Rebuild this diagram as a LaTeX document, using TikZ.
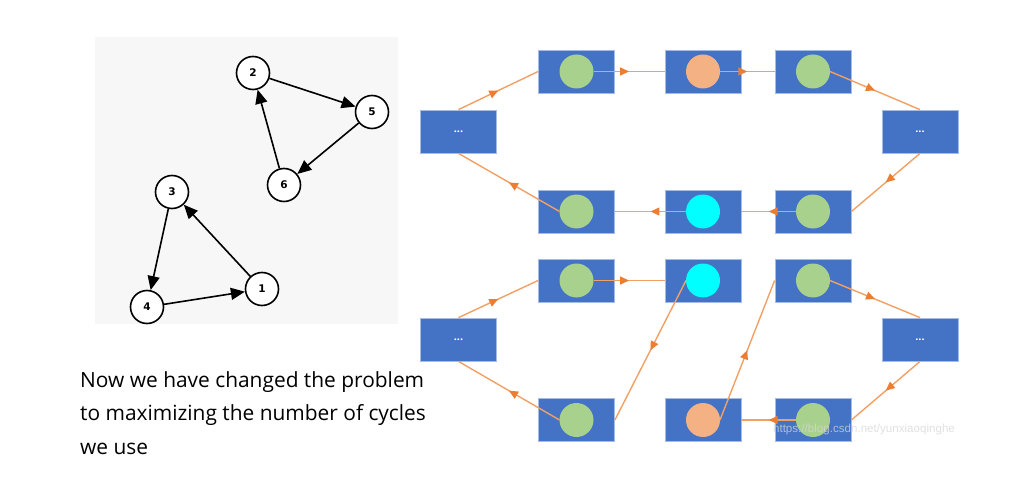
\documentclass[tikz,border=0pt]{standalone}
\usepackage{fontspec}
\setmainfont{Open Sans}
\newfontfamily\numfont{DejaVu Sans}
\newfontfamily\wmfont{Liberation Sans}
\usetikzlibrary{arrows.meta,decorations.markings}
\definecolor{boxblue}{RGB}{68,114,196}
\definecolor{boxedge}{RGB}{165,188,228}
\definecolor{cgreen}{RGB}{169,209,142}
\definecolor{corange}{RGB}{244,177,131}
\definecolor{ccyan}{RGB}{0,255,255}
\definecolor{lineor}{RGB}{242,160,100}
\definecolor{arrowor}{RGB}{237,125,49}
\definecolor{panelgray}{RGB}{247,247,247}
\definecolor{wmgray}{RGB}{215,215,215}
\tikzset{
  blk/.style={fill=boxblue, draw=boxedge, line width=0.8pt, minimum width=76pt, minimum height=43pt, inner sep=0pt},
  dotsbox/.style={blk, text=white, font=\bfseries\fontsize{11}{11}\selectfont},
  ball/.style={circle, minimum size=34pt, inner sep=0pt, outer sep=0pt},
  gball/.style={ball, fill=cgreen},
  oball/.style={ball, fill=corange},
  cball/.style={ball, fill=ccyan},
  link/.style={draw=lineor, line width=1.4pt, postaction={decorate},
    decoration={markings, mark=at position 0.5 with {\arrow[arrowor]{Triangle[length=9pt,width=8pt]}}}},
  vtx/.style={circle, draw=black, line width=1.6pt, fill=white, minimum size=33pt, inner sep=0pt, font=\numfont\bfseries\fontsize{10.5}{10.5}\selectfont},
  garrow/.style={-{Triangle[length=14pt,width=12pt]}, line width=1.6pt, black},
  caption/.style={anchor=base west, inner sep=0pt, font=\fontsize{20.9}{24}\selectfont},
}
\begin{document}
\begin{tikzpicture}[x=1pt,y=-1pt]
\useasboundingbox[fill=white] (0,0) rectangle (1025,481);
% left panel
\fill[panelgray] (95,37) rectangle (398,324);
\node[vtx] (n2) at (253,73) {2};
\node[vtx] (n5) at (372,112) {5};
\node[vtx] (n6) at (284,185) {6};
\node[vtx] (n3) at (172,192) {3};
\node[vtx] (n4) at (147,307) {4};
\node[vtx] (n1) at (262,289) {1};
\draw[garrow] (n2) -- (n5);
\draw[garrow] (n5) -- (n6);
\draw[garrow] (n6) -- (n2);
\draw[garrow] (n3) -- (n4);
\draw[garrow] (n4) -- (n1);
\draw[garrow] (n1) -- (n3);
% caption
\node[caption] (t1) at (80,387) {Now we have changed the problem};
\node[caption] (t2) at (80,420.5) {to maximizing the number of cycles};
\node[caption] (t3) at (80,454) {we use};
% top group boxes
\node[dotsbox] (L1) at (458.5,131.5) {...};
\node[dotsbox] (R1) at (920,131.5) {...};
\node[blk] (a1) at (576.5,71.5) {};
\node[blk] (a2) at (703,71.5) {};
\node[blk] (a3) at (813,71.5) {};
\node[blk] (b1) at (576.5,211.5) {};
\node[blk] (b2) at (703,211.5) {};
\node[blk] (b3) at (813,211.5) {};
\node[gball] (ca1) at (a1) {};
\node[oball] (ca2) at (a2) {};
\node[gball] (ca3) at (a3) {};
\node[gball] (cb1) at (b1) {};
\node[cball] (cb2) at (b2) {};
\node[gball] (cb3) at (b3) {};
\draw[link] (L1.north) -- (a1.west);
\draw[link] (ca1.east) -- (a2.west);
\draw[link] (ca2.east) -- (a3.west);
\draw[link] (ca3.east) -- (R1.north);
\draw[link] (R1.south) -- (b3.east);
\draw[link] (cb3.west) -- (b2.east);
\draw[link] (cb2.west) -- (b1.east);
\draw[link] (cb1.west) -- (L1.south);
% bottom group boxes
\node[dotsbox] (L2) at (458.5,339.5) {...};
\node[dotsbox] (R2) at (920,339.5) {...};
\node[blk] (d1) at (576.5,280.5) {};
\node[blk] (d2) at (703,280.5) {};
\node[blk] (d3) at (813,280.5) {};
\node[blk] (e1) at (576.5,420) {};
\node[blk] (e2) at (703,420) {};
\node[blk] (e3) at (813,420) {};
\node[gball] (cd1) at (d1) {};
\node[cball] (cd2) at (d2) {};
\node[gball] (cd3) at (d3) {};
\node[gball] (ce1) at (e1) {};
\node[oball] (ce2) at (e2) {};
\node[gball] (ce3) at (e3) {};
\draw[link] (L2.north) -- (d1.west);
\draw[link] (cd1.east) -- (d2.west);
\draw[link] (cd2.west) -- (e1.east);
\draw[link] (ce1.west) -- (L2.south);
\draw[link] (cd3.east) -- (R2.north);
\draw[link] (R2.south) -- (e3.east);
\draw[link] (ce3.west) -- (e2.east);
\draw[link] (ce2.east) -- (d3.west);
% watermark
\node[font=\wmfont\fontsize{11.6}{11.6}\selectfont, text=wmgray, text opacity=0.75, inner sep=0pt] (wm) at (864,429) {https://blog.csdn.net/yunxiaoqinghe};
\end{tikzpicture}
\end{document}
